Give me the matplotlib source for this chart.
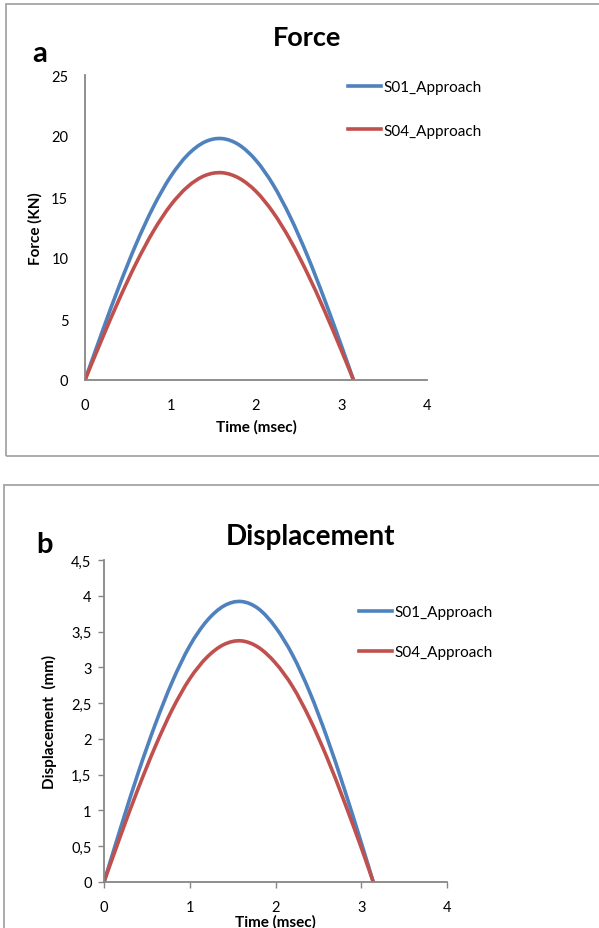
import matplotlib
matplotlib.use("Agg")
import matplotlib.pyplot as plt
from matplotlib.patches import Rectangle, PathPatch
from matplotlib.path import Path
from matplotlib.lines import Line2D
from matplotlib.ticker import FuncFormatter

plt.rcParams['font.family'] = ['Lato', 'DejaVu Sans']

# ---- data ----
time_ms = [0, 0.2, 0.4, 0.6, 0.8, 1.0, 1.2, 1.4, 1.6, 1.8, 2.0, 2.2, 2.4, 2.6, 2.8, 3.0, 3.14]
force_s01 = [0, 3.93, 7.71, 11.18, 14.20, 16.66, 18.45, 19.51, 19.79, 19.28, 18.00, 16.01, 13.37, 10.21, 6.63, 2.79, 0]
force_s04 = [0, 3.38, 6.62, 9.60, 12.20, 14.31, 15.84, 16.75, 16.99, 16.55, 15.46, 13.74, 11.48, 8.76, 5.70, 2.40, 0]
disp_s01 = [0, 0.78, 1.53, 2.21, 2.81, 3.30, 3.65, 3.86, 3.92, 3.82, 3.56, 3.17, 2.65, 2.02, 1.31, 0.55, 0]
disp_s04 = [0, 0.67, 1.31, 1.90, 2.42, 2.84, 3.14, 3.32, 3.37, 3.28, 3.06, 2.73, 2.28, 1.74, 1.13, 0.48, 0]
series_names = ["S01_Approach", "S04_Approach"]
x_ticks = [0, 1, 2, 3, 4]
force_ticks = [0, 5, 10, 15, 20, 25]
disp_ticks = [0, 0.5, 1, 1.5, 2, 2.5, 3, 3.5, 4, 4.5]

BLUE = "#4F81BD"
RED = "#C0504D"
AXC = "#868686"
BOXC = "#A5A5A5"
LW = 2.6

W, H = 599, 929
fig = plt.figure(figsize=(W / 100, H / 100), dpi=100)

def fx(px):
    return px / W

def fy(py):
    return 1 - py / H

def smooth_line(ax, xs, ys, color):
    # Excel-style smoothed line: Catmull-Rom segments drawn as cubic Bezier curves
    n = len(xs)
    verts = [(xs[0], ys[0])]
    codes = [Path.MOVETO]
    for i in range(n - 1):
        i0 = max(i - 1, 0)
        i3 = min(i + 2, n - 1)
        c1 = (xs[i] + (xs[i + 1] - xs[i0]) / 6.0, ys[i] + (ys[i + 1] - ys[i0]) / 6.0)
        c2 = (xs[i + 1] - (xs[i3] - xs[i]) / 6.0, ys[i + 1] - (ys[i3] - ys[i]) / 6.0)
        verts += [c1, c2, (xs[i + 1], ys[i + 1])]
        codes += [Path.CURVE4, Path.CURVE4, Path.CURVE4]
    ax.add_patch(PathPatch(Path(verts, codes), facecolor='none', edgecolor=color,
                           linewidth=LW, capstyle='butt', joinstyle='round'))

# panel borders
fig.patches.append(Rectangle((fx(6), fy(457)), fx(700), (457 - 5) / H, transform=fig.transFigure,
                             fill=False, edgecolor=BOXC, linewidth=1.3))
fig.patches.append(Rectangle((fx(4), fy(1000)), fx(700), (1000 - 486) / H, transform=fig.transFigure,
                             fill=False, edgecolor=BOXC, linewidth=1.3))

def style(ax, ticklen):
    for s in ["top", "right"]:
        ax.spines[s].set_visible(False)
    for s in ["left", "bottom"]:
        ax.spines[s].set_color(AXC)
        ax.spines[s].set_linewidth(1.3)
    ax.tick_params(axis='both', colors=AXC, length=ticklen, width=1.0, labelsize=10.5,
                   labelcolor="black", direction="out")

handles = [Line2D([], [], color=BLUE, lw=LW), Line2D([], [], color=RED, lw=LW)]

# ---- panel a ----
axa = fig.add_axes([fx(85), fy(381), fx(427 - 85), (381 - 76) / H])
smooth_line(axa, time_ms, force_s01, BLUE)
smooth_line(axa, time_ms, force_s04, RED)
axa.set_xlim(0, 4)
axa.set_ylim(0, 25)
axa.set_xticks(x_ticks)
axa.set_yticks(force_ticks)
style(axa, 0)
axa.tick_params(axis='y', pad=12)
axa.tick_params(axis='x', pad=13)
axa.set_xlabel("Time (msec)", fontsize=11, fontweight='bold', labelpad=5)
axa.set_ylabel("Force (KN)", fontsize=11, fontweight='bold', labelpad=6)
fig.text(fx(307), fy(38), "Force", fontsize=19.5, fontweight='bold', ha='center', va='center')
fig.text(fx(40), fy(54), "a", fontsize=21, fontweight='bold', ha='center', va='center')
axa.legend(handles, series_names, loc='center left', bbox_to_anchor=(fx(334), fy(110)),
           bbox_transform=fig.transFigure, frameon=False, fontsize=11, handlelength=2.15,
           handletextpad=0.2, labelspacing=1.92)

# ---- panel b ----
axb = fig.add_axes([fx(104), fy(883), fx(447 - 104), (883 - 561) / H])
smooth_line(axb, time_ms, disp_s01, BLUE)
smooth_line(axb, time_ms, disp_s04, RED)
axb.set_xlim(0, 4)
axb.set_ylim(0, 4.5)
axb.set_xticks(x_ticks)
axb.set_yticks(disp_ticks)
style(axb, 4)
axb.yaxis.set_major_formatter(FuncFormatter(lambda v, p: ("%g" % v).replace(".", ",")))
axb.tick_params(axis='y', pad=5)
axb.tick_params(axis='x', pad=9)
axb.set_xlabel("Time (msec)", fontsize=11, fontweight='bold', labelpad=0)
axb.set_ylabel("Displacement  (mm)", fontsize=11, fontweight='bold', labelpad=10)
fig.text(fx(310), fy(537), "Displacement", fontsize=20, fontweight='bold', ha='center', va='center')
fig.text(fx(45), fy(545), "b", fontsize=21, fontweight='bold', ha='center', va='center')
axb.legend(handles, series_names, loc='center left', bbox_to_anchor=(fx(345), fy(633)),
           bbox_transform=fig.transFigure, frameon=False, fontsize=11, handlelength=2.15,
           handletextpad=0.2, labelspacing=1.7)

fig.savefig("out.png", dpi=100)
